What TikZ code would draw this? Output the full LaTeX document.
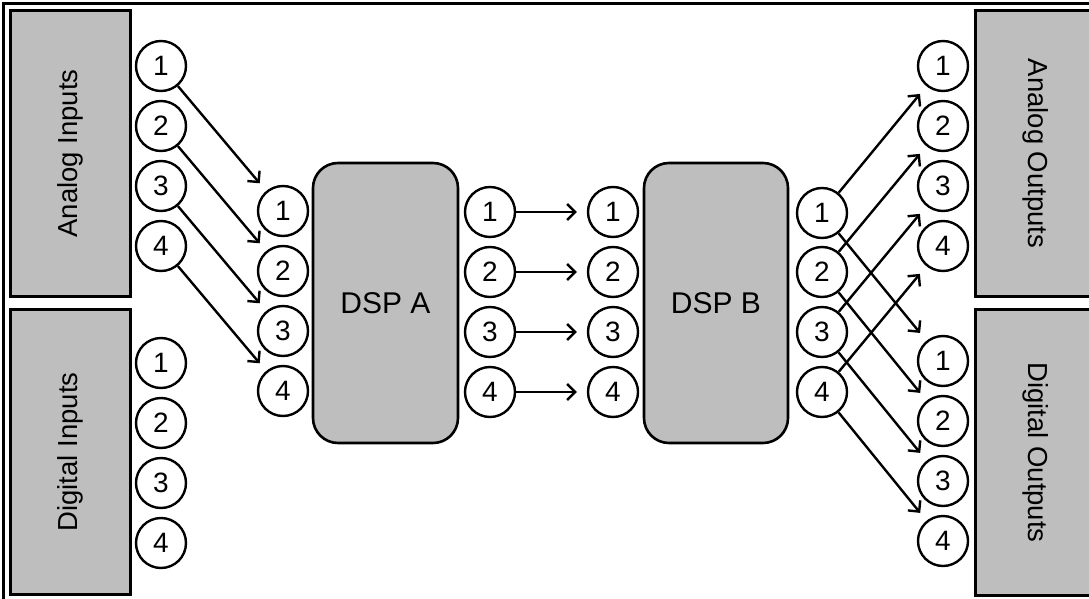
\documentclass[tikz,border=0pt]{standalone}
\usepackage{fontspec}
\setmainfont{Liberation Sans}
\usetikzlibrary{arrows.meta}
\definecolor{boxgray}{RGB}{190,190,190}
\begin{document}
\begin{tikzpicture}[x=1pt,y=-1pt,
  port/.style={circle,draw,line width=2.4pt,minimum size=50pt,inner sep=0pt,font=\fontsize{28pt}{32pt}\selectfont},
  panel/.style={draw,fill=boxgray,line width=3pt,inner sep=0pt,font=\fontsize{27.5pt}{32pt}\selectfont},
  dsp/.style={draw,fill=boxgray,line width=2.6pt,rounded corners=25pt,inner sep=0pt,font=\fontsize{30pt}{34pt}\selectfont},
  link/.style={line width=2.4pt,-{Straight Barb[length=8pt,width=16pt]},shorten >=10pt}]
\useasboundingbox (0,0) rectangle (1089,599);
\draw[line width=3pt] (3,4) rectangle (1110,620);
% panels
\node[panel,rotate=90,minimum width=286pt,minimum height=120pt] (ainp) at (70,153.5) {Analog Inputs};
\node[panel,rotate=90,minimum width=285pt,minimum height=120pt] (dinp) at (70,452) {Digital Inputs};
\node[panel,rotate=-90,minimum width=286pt,minimum height=121pt] (aoutp) at (1036,153.5) {Analog Outputs};
\node[panel,rotate=-90,minimum width=286pt,minimum height=121pt] (doutp) at (1036,452.5) {Digital Outputs};
% DSPs
\node[dsp,minimum width=145pt,minimum height=280pt] (dspa) at (385.5,303) {DSP A};
\node[dsp,minimum width=144pt,minimum height=280pt] (dspb) at (716,303) {DSP B};
% ports
\foreach \y [count=\i] in {66,126,186,246} \node[port] (ai\i) at (161,\y) {\i};
\foreach \y [count=\i] in {363,423,483,543} \node[port] (di\i) at (161,\y) {\i};
\foreach \y [count=\i] in {211,271,331,391} \node[port] (ain\i) at (283,\y) {\i};
\foreach \y [count=\i] in {212,272,332,392} \node[port] (aout\i) at (490,\y) {\i};
\foreach \y [count=\i] in {212,272,332,392} \node[port] (bin\i) at (613,\y) {\i};
\foreach \y [count=\i] in {213,272,332,392} \node[port] (bout\i) at (822,\y) {\i};
\foreach \y [count=\i] in {66,126,186,246} \node[port] (ao\i) at (943,\y) {\i};
\foreach \y [count=\i] in {361,421,481,541} \node[port] (do\i) at (943,\y) {\i};
% links
\foreach \i in {1,...,4} {
  \draw[link] (ai\i) -- (ain\i);
  \draw[link] (aout\i) -- (bin\i);
  \draw[link] (bout\i) -- (ao\i);
  \draw[link] (bout\i) -- (do\i);
}
\end{tikzpicture}
\end{document}
